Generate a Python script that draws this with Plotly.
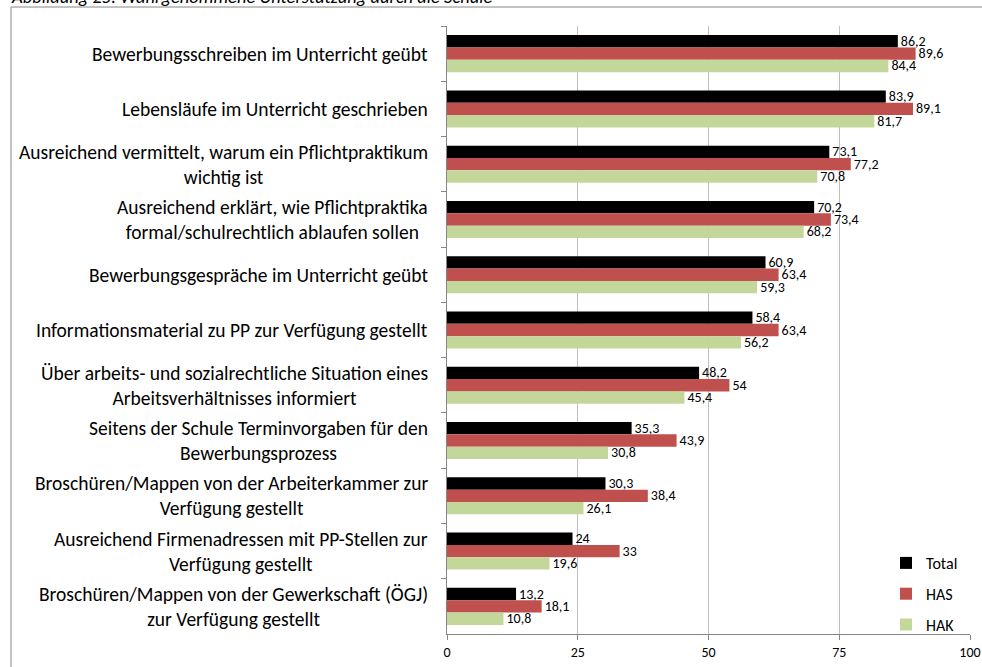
import plotly.graph_objects as go

categories = [
    "Bewerbungsschreiben im Unterricht geübt",
    "Lebensläufe im Unterricht geschrieben",
    "Ausreichend vermittelt, warum ein Pflichtpraktikum<br>wichtig ist",
    "Ausreichend erklärt, wie Pflichtpraktika<br>formal/schulrechtlich ablaufen sollen",
    "Bewerbungsgespräche im Unterricht geübt",
    "Informationsmaterial zu PP zur Verfügung gestellt",
    "Über arbeits- und sozialrechtliche Situation eines<br>Arbeitsverhältnisses informiert",
    "Seitens der Schule Terminvorgaben für den<br>Bewerbungsprozess",
    "Broschüren/Mappen von der Arbeiterkammer zur<br>Verfügung gestellt",
    "Ausreichend Firmenadressen mit PP-Stellen zur<br>Verfügung gestellt",
    "Broschüren/Mappen von der Gewerkschaft (ÖGJ)<br>zur Verfügung gestellt",
]
total = [86.2, 83.9, 73.1, 70.2, 60.9, 58.4, 48.2, 35.3, 30.3, 24, 13.2]
has = [89.6, 89.1, 77.2, 73.4, 63.4, 63.4, 54, 43.9, 38.4, 33, 18.1]
hak = [84.4, 81.7, 70.8, 68.2, 59.3, 56.2, 45.4, 30.8, 26.1, 19.6, 10.8]
series_names = ["Total", "HAS", "HAK"]
series_colors = ["#000000", "#C0504D", "#C4D79B"]
x_ticks = [0, 25, 50, 75, 100]
caption = "Abbildung 25: Wahrgenommene Unterstützung durch die Schule"

FONT = "Carlito, Lato, sans-serif"


def fmt(v):
    return f"{v:g}".replace(".", ",")


fig = go.Figure()
for name, vals, col in zip(series_names, [total, has, hak], series_colors):
    fig.add_trace(go.Bar(
        y=categories, x=vals, name=name, orientation="h",
        marker=dict(color=col, line=dict(width=0)),
        text=[fmt(v) for v in vals], textposition="outside",
        textfont=dict(size=14, color="#000000", family=FONT),
        constraintext="none", cliponaxis=False,
        legendgroup=name,
    ))

L, R, T, B = 447, 12, 26, 33
W, H = 982, 667
pw, ph = W - L - R, H - T - B

for c in categories:
    fig.add_annotation(
        x=-17 / pw, xref="paper", y=c, yref="y", text=c, showarrow=False,
        xanchor="right", align="center",
        font=dict(size=19.5, color="#000000", family=FONT),
    )

fig.add_annotation(
    x=(9 - L) / pw, xref="paper", y=(H - B - 10) / ph, yref="paper",
    text="<i>" + caption + "</i>", showarrow=False,
    xanchor="left", yanchor="bottom",
    font=dict(size=18.5, color="#000000", family=FONT),
)

fig.add_shape(
    type="rect", xref="paper", yref="paper",
    x0=(11 - L) / pw, x1=(990 - L) / pw,
    y0=(H - B - 680) / ph, y1=(H - B - 7) / ph,
    line=dict(color="#868686", width=1), fillcolor="rgba(0,0,0,0)", layer="below",
)

fig.update_layout(
    width=W, height=H,
    margin=dict(l=L, r=R, t=T, b=B, autoexpand=False),
    barmode="group", bargap=0.33, bargroupgap=0,
    paper_bgcolor="white", plot_bgcolor="white",
    font=dict(family=FONT, color="#000000"),
    showlegend=True,
    legend=dict(
        x=(886 - L) / pw, y=(H - B - 594) / ph, xanchor="left", yanchor="middle",
        font=dict(size=16, family=FONT), tracegroupgap=7,
        bgcolor="rgba(0,0,0,0)", itemwidth=30,
    ),
    xaxis=dict(
        range=[0, 100], tickvals=x_ticks, ticktext=[str(t) for t in x_ticks],
        showgrid=True, gridcolor="#BFBFBF", gridwidth=1,
        showline=True, linecolor="#868686", linewidth=1,
        ticks="outside", ticklen=5, tickcolor="#868686",
        tickfont=dict(size=14, family=FONT), zeroline=False,
    ),
    yaxis=dict(
        autorange="reversed", showticklabels=False,
        showline=True, linecolor="#868686", linewidth=1,
        ticks="outside", ticklen=5, tickcolor="#868686",
        tickson="boundaries", showgrid=False,
    ),
)

fig.write_html(
    "out.html",
    config={"displayModeBar": False},
    post_script="document.body.style.margin='0';document.body.style.overflow='hidden';",
)
